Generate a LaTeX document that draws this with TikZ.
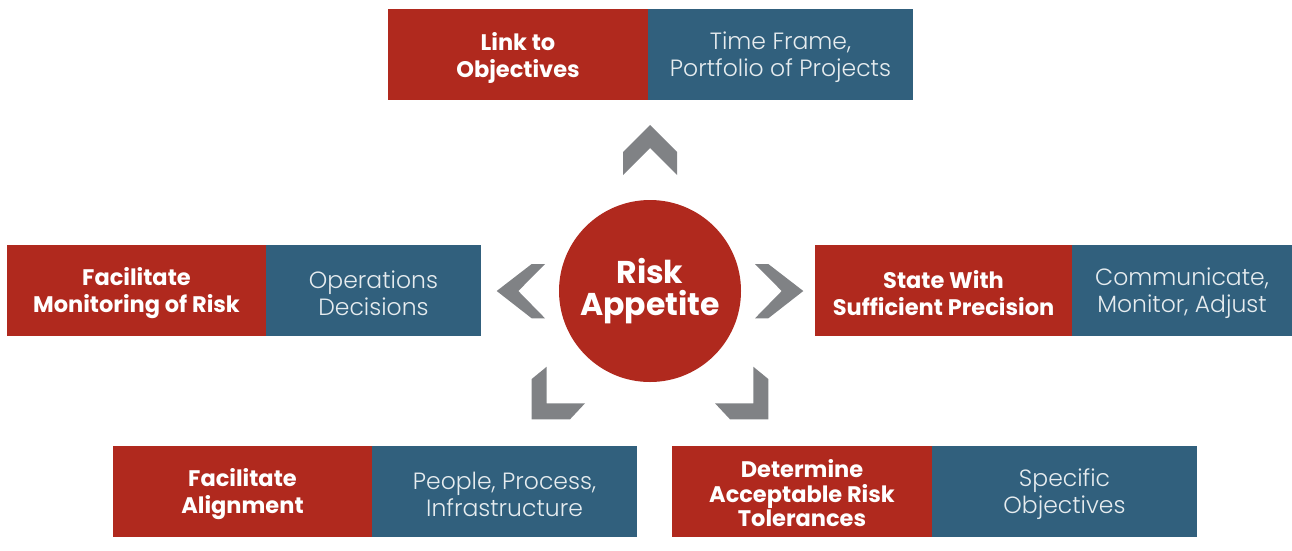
\documentclass[tikz,border=0pt]{standalone}
\usepackage{fontspec}
\setmainfont{Poppins}
\newfontfamily\lightfont{Poppins Light}
\definecolor{rred}{HTML}{B0291E}
\definecolor{rblue}{HTML}{31607D}
\definecolor{rgrey}{HTML}{808285}
\begin{document}
\begin{tikzpicture}[x=1pt,y=-1pt,
  boxbase/.style={anchor=north west,minimum height=91pt,inner sep=0pt,outer sep=0pt},
  redbox/.style={boxbase,fill=rred},
  bluebox/.style={boxbase,fill=rblue},
  redtxt/.style={text=white,align=center,inner sep=0pt,yshift=-3pt,font=\bfseries\fontsize{22.5}{27}\selectfont},
  bluetxt/.style={text=white!88!rblue,align=center,inner sep=0pt,yshift=-3pt,font=\lightfont\fontsize{23.5}{27}\selectfont},
  chev/.style={fill=rgrey,draw=none}]
\useasboundingbox (0,0) rectangle (1292,550);
% top
\node[redbox,minimum width=260pt,label={[redtxt]center:{Link to\\Objectives}}] (t1) at (388,9) {};
\node[bluebox,minimum width=265pt,label={[bluetxt]center:{Time Frame,\\Portfolio of Projects}}] (t2) at (648,9) {};
% left
\node[redbox,minimum width=259pt,label={[redtxt]center:{Facilitate\\Monitoring of Risk}}] (l1) at (7,245) {};
\node[bluebox,minimum width=215pt,label={[bluetxt]center:{Operations\\Decisions}}] (l2) at (266,245) {};
% right
\node[redbox,minimum width=257pt,label={[redtxt]center:{State With\\Sufficient Precision}}] (r1) at (815,245) {};
\node[bluebox,minimum width=220pt,label={[bluetxt]center:{Communicate,\\Monitor, Adjust}}] (r2) at (1072,245) {};
% bottom left
\node[redbox,minimum width=259pt,label={[redtxt]center:{Facilitate\\Alignment}}] (bl1) at (113,446) {};
\node[bluebox,minimum width=265pt,label={[bluetxt]center:{People, Process,\\Infrastructure}}] (bl2) at (372,446) {};
% bottom right
\node[redbox,minimum width=260pt,label={[redtxt,yshift=1pt,font=\bfseries\fontsize{22.5}{24.5}\selectfont]center:{Determine\\Acceptable Risk\\Tolerances}}] (br1) at (672,446) {};
\node[bluebox,minimum width=265pt,label={[bluetxt]center:{Specific\\Objectives}}] (br2) at (932,446) {};
% centre
\node[circle,fill=rred,text=white,minimum size=182pt,inner sep=0pt,align=center,font=\bfseries\fontsize{31.5}{32}\selectfont] (c) at (650,291) {Risk\\Appetite};
% chevrons
\fill[chev] (623,175) -- (623,152) -- (650,125) -- (677,152) -- (677,175) -- (650,148) -- cycle;
\fill[chev] (545,264) -- (531.7,264) -- (496.7,291) -- (531.7,318.3) -- (545,318.3) -- (518.3,291) -- cycle;
\fill[chev] (755,264) -- (768.3,264) -- (803.3,291) -- (768.3,318.3) -- (755,318.3) -- (781.7,291) -- cycle;
\fill[chev] (531.7,379) -- (546.7,366.7) -- (546.7,403.3) -- (585,403.3) -- (570,419.3) -- (531.7,419.3) -- cycle;
\fill[chev] (768.3,379) -- (753.3,366.7) -- (753.3,403.3) -- (715,403.3) -- (730,419.3) -- (768.3,419.3) -- cycle;
\end{tikzpicture}
\end{document}
